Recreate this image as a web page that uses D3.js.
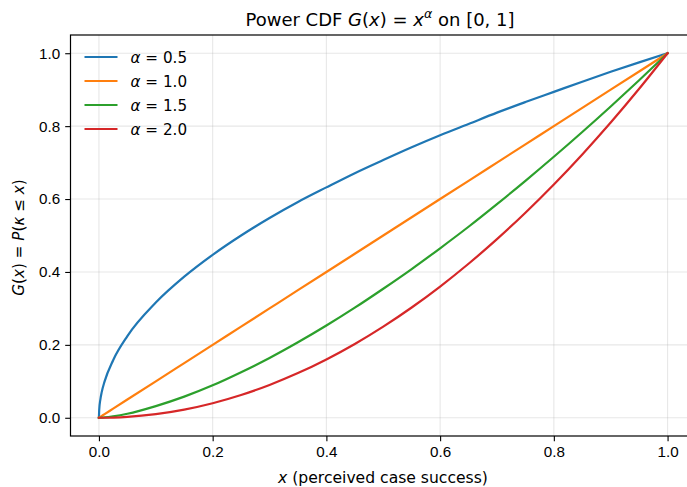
<!DOCTYPE html>
<html>
<head>
<meta charset="utf-8">
<script src="https://cdn.jsdelivr.net/npm/d3@7"></script>
<style>
	body { margin: 0; background: #fff; }
	svg { font-family: "DejaVu Sans", sans-serif; }
	.tick text { font-size: 15.2px; fill: #000; }
</style>
</head>
<body>
<div id="viz"></div>
<script>
// sample points
const xs = [0, 0.0005, 0.0025, 0.005, 0.01, 0.025, 0.05, 0.1, 0.15, 0.2, 0.25, 0.3, 0.35, 0.4, 0.45, 0.5, 0.55, 0.6, 0.65, 0.7, 0.75, 0.8, 0.85, 0.9, 0.95, 1.0];
const g05 = [0, 0.022, 0.05, 0.071, 0.1, 0.158, 0.224, 0.316, 0.387, 0.447, 0.5, 0.548, 0.592, 0.632, 0.671, 0.707, 0.742, 0.775, 0.806, 0.837, 0.866, 0.894, 0.922, 0.949, 0.975, 1.0];
const g10 = [0, 0.0005, 0.0025, 0.005, 0.01, 0.025, 0.05, 0.1, 0.15, 0.2, 0.25, 0.3, 0.35, 0.4, 0.45, 0.5, 0.55, 0.6, 0.65, 0.7, 0.75, 0.8, 0.85, 0.9, 0.95, 1.0];
const g15 = [0, 0.00001, 0.000125, 0.00035, 0.001, 0.004, 0.011, 0.032, 0.058, 0.089, 0.125, 0.164, 0.207, 0.253, 0.302, 0.354, 0.408, 0.465, 0.524, 0.586, 0.65, 0.716, 0.784, 0.854, 0.926, 1.0];
const g20 = [0, 0, 0.000006, 0.000025, 0.0001, 0.000625, 0.0025, 0.01, 0.0225, 0.04, 0.0625, 0.09, 0.1225, 0.16, 0.2025, 0.25, 0.3025, 0.36, 0.4225, 0.49, 0.5625, 0.64, 0.7225, 0.81, 0.9025, 1.0];
const alphas = ["0.5", "1.0", "1.5", "2.0"];
const colors = ["#1f77b4", "#ff7f0e", "#2ca02c", "#d62728"];
const tickVals = [0, 0.2, 0.4, 0.6, 0.8, 1.0];

const series = [g05, g10, g15, g20];

var margin = { top: 35, right: -9, bottom: 51, left: 70.5 },
	W = 687, H = 487,
	width = W - margin.left - margin.right,
	height = H - margin.top - margin.bottom;

var svg = d3.select("#viz")
	.append("svg")
	.attr("width", W)
	.attr("height", H);

var g = svg.append("g")
	.attr("transform", `translate(${margin.left},${margin.top})`);

const x = d3.scaleLinear().domain([-0.05, 1.05]).range([0, width]);
const y = d3.scaleLinear().domain([-0.05, 1.05]).range([height, 0]);

// grid
g.append("g")
	.selectAll("line")
	.data(tickVals)
	.join("line")
	.attr("x1", (d) => x(d)).attr("x2", (d) => x(d))
	.attr("y1", 0).attr("y2", height)
	.attr("stroke", "#b0b0b0").attr("stroke-opacity", 0.3).attr("stroke-width", 1.1);
g.append("g")
	.selectAll("line")
	.data(tickVals)
	.join("line")
	.attr("y1", (d) => y(d)).attr("y2", (d) => y(d))
	.attr("x1", 0).attr("x2", width)
	.attr("stroke", "#b0b0b0").attr("stroke-opacity", 0.3).attr("stroke-width", 1.1);

// axes
const xAxis = g.append("g")
	.attr("transform", `translate(0,${height})`)
	.call(d3.axisBottom(x).tickValues(tickVals).tickFormat(d3.format(".1f")).tickSize(5.3).tickPadding(5));
const yAxis = g.append("g")
	.call(d3.axisLeft(y).tickValues(tickVals).tickFormat(d3.format(".1f")).tickSize(5.3).tickPadding(5));
[xAxis, yAxis].forEach((a) => {
	a.select(".domain").remove();
	a.selectAll(".tick line").attr("stroke", "#000").attr("stroke-width", 1.1);
});

// spines
g.append("rect")
	.attr("x", 0).attr("y", 0)
	.attr("width", width).attr("height", height)
	.attr("fill", "none").attr("stroke", "#000").attr("stroke-width", 1.2);

// curves
const line = d3.line()
	.x((d) => x(d[0]))
	.y((d) => y(d[1]))
	.curve(d3.curveMonotoneX);

g.append("g")
	.selectAll("path")
	.data(series)
	.join("path")
	.attr("d", (s) => line(xs.map((v, i) => [v, s[i]])))
	.attr("fill", "none")
	.attr("stroke", (d, i) => colors[i])
	.attr("stroke-width", 2.2)
	.attr("stroke-linejoin", "round")
	.attr("stroke-linecap", "square");

// legend
var legend = g.append("g").attr("transform", "translate(14,22)");
alphas.forEach((a, i) => {
	var row = legend.append("g").attr("transform", `translate(0,${i * 24})`);
	row.append("line")
		.attr("x1", 0).attr("x2", 33)
		.attr("stroke", colors[i]).attr("stroke-width", 2.2);
	var t = row.append("text")
		.attr("x", 46).attr("y", 5.5)
		.attr("font-size", 15.2);
	t.append("tspan").attr("font-style", "italic").text("α");
	t.append("tspan").text(" = " + a);
});

// title
var title = svg.append("text")
	.attr("x", 380)
	.attr("y", 26)
	.attr("text-anchor", "middle")
	.attr("font-size", 18);
title.append("tspan").text("Power CDF ");
title.append("tspan").attr("font-style", "italic").text("G");
title.append("tspan").text("(");
title.append("tspan").attr("font-style", "italic").text("x");
title.append("tspan").text(") = ");
title.append("tspan").attr("font-style", "italic").text("x");
title.append("tspan").attr("font-style", "italic").attr("font-size", 12.6).attr("dy", -8).text("α");
title.append("tspan").attr("dy", 8).text(" on [0, 1]");

// x label
var xl = svg.append("text")
	.attr("x", 383)
	.attr("y", 483)
	.attr("text-anchor", "middle")
	.attr("font-size", 15.6);
xl.append("tspan").attr("font-style", "italic").text("x");
xl.append("tspan").text(" (perceived case success)");

// y label
var yl = svg.append("text")
	.attr("transform", `translate(24,${margin.top + y(0.5) + 2}) rotate(-90)`)
	.attr("text-anchor", "middle")
	.attr("font-size", 15.2);
yl.append("tspan").attr("font-style", "italic").text("G");
yl.append("tspan").text("(");
yl.append("tspan").attr("font-style", "italic").text("x");
yl.append("tspan").text(") = ");
yl.append("tspan").attr("font-style", "italic").text("P");
yl.append("tspan").text("(");
yl.append("tspan").attr("font-style", "italic").text("κ");
yl.append("tspan").text(" ≤ ");
yl.append("tspan").attr("font-style", "italic").text("x");
yl.append("tspan").text(")");
</script>
</body>
</html>
